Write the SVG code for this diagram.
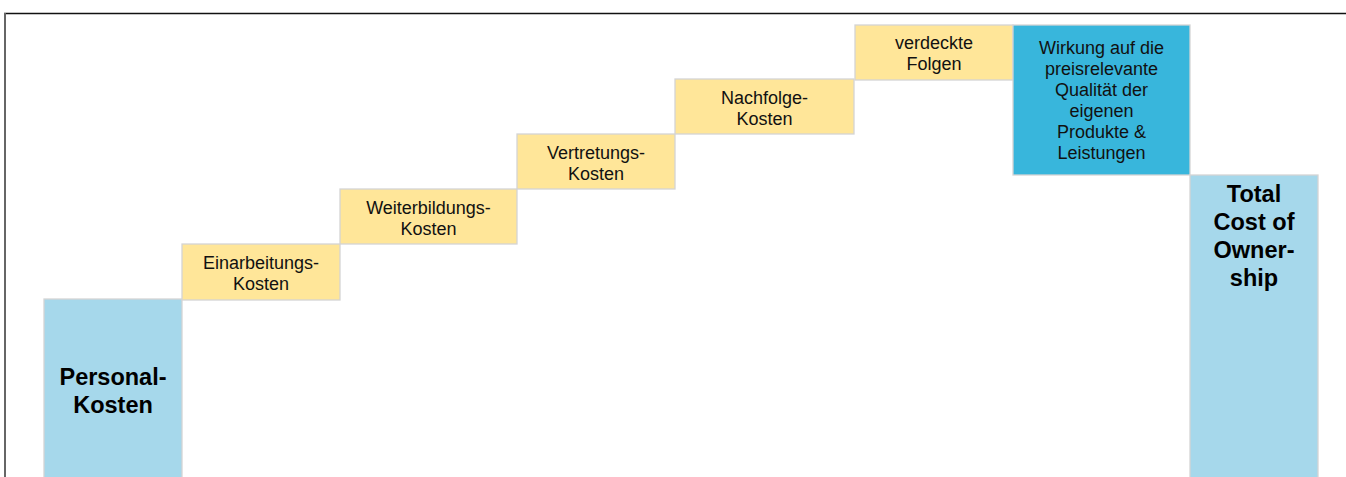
<svg xmlns="http://www.w3.org/2000/svg" width="1346" height="477" viewBox="0 0 1346 477">
  <style>
    .box { stroke: #d4d4d4; stroke-width: 1.3; }
    .cost { fill: #ffe699; }
    .total { fill: #a6d8eb; }
    .effect { fill: #38b6dc; }
    .lbl { font-family: "Liberation Sans", Arial, sans-serif; font-size: 18px; fill: #111; text-anchor: middle; }
    .big { font-family: "Liberation Sans", Arial, sans-serif; font-size: 23.5px; font-weight: bold; fill: #000; text-anchor: middle; }
  </style>
  <rect width="1346" height="477" fill="#ffffff"/>

  <!-- frame -->
  <g id="frame">
    <line x1="4" y1="13.5" x2="1346" y2="13.5" stroke="#111" stroke-width="1.6"/>
    <line x1="5" y1="13" x2="5" y2="477" stroke="#666" stroke-width="2"/>
  </g>

  <!-- connectors: none, the cost steps touch each other -->
  <g id="connectors"/>

  <g id="personal">
    <rect class="box total" x="44" y="299" width="138" height="200"/>
    <text class="big" x="113" y="385">Personal-</text>
    <text class="big" x="113" y="413">Kosten</text>
  </g>

  <g id="einarbeitung">
    <rect class="box cost" x="182" y="244" width="158" height="56"/>
    <text class="lbl" x="261" y="269">Einarbeitungs-</text>
    <text class="lbl" x="261" y="290">Kosten</text>
  </g>

  <g id="weiterbildung">
    <rect class="box cost" x="340" y="189" width="177" height="55"/>
    <text class="lbl" x="428.5" y="214">Weiterbildungs-</text>
    <text class="lbl" x="428.5" y="235">Kosten</text>
  </g>

  <g id="vertretung">
    <rect class="box cost" x="517" y="134" width="158" height="55"/>
    <text class="lbl" x="596" y="159">Vertretungs-</text>
    <text class="lbl" x="596" y="180">Kosten</text>
  </g>

  <g id="nachfolge">
    <rect class="box cost" x="675" y="79" width="179" height="55"/>
    <text class="lbl" x="764.5" y="104">Nachfolge-</text>
    <text class="lbl" x="764.5" y="125">Kosten</text>
  </g>

  <g id="verdeckt">
    <rect class="box cost" x="855" y="25" width="158" height="55"/>
    <text class="lbl" x="934" y="49">verdeckte</text>
    <text class="lbl" x="934" y="70">Folgen</text>
  </g>

  <g id="wirkung">
    <rect class="box effect" x="1013" y="25" width="177" height="150"/>
    <text class="lbl" x="1101.5" y="54">Wirkung auf die</text>
    <text class="lbl" x="1101.5" y="75">preisrelevante</text>
    <text class="lbl" x="1101.5" y="96">Qualität der</text>
    <text class="lbl" x="1101.5" y="117">eigenen</text>
    <text class="lbl" x="1101.5" y="138">Produkte &amp;</text>
    <text class="lbl" x="1101.5" y="159">Leistungen</text>
  </g>

  <g id="tco">
    <rect class="box total" x="1190" y="175" width="128" height="330"/>
    <text class="big" x="1254" y="202">Total</text>
    <text class="big" x="1254" y="230">Cost of</text>
    <text class="big" x="1254" y="258">Owner-</text>
    <text class="big" x="1254" y="286">ship</text>
  </g>
</svg>
